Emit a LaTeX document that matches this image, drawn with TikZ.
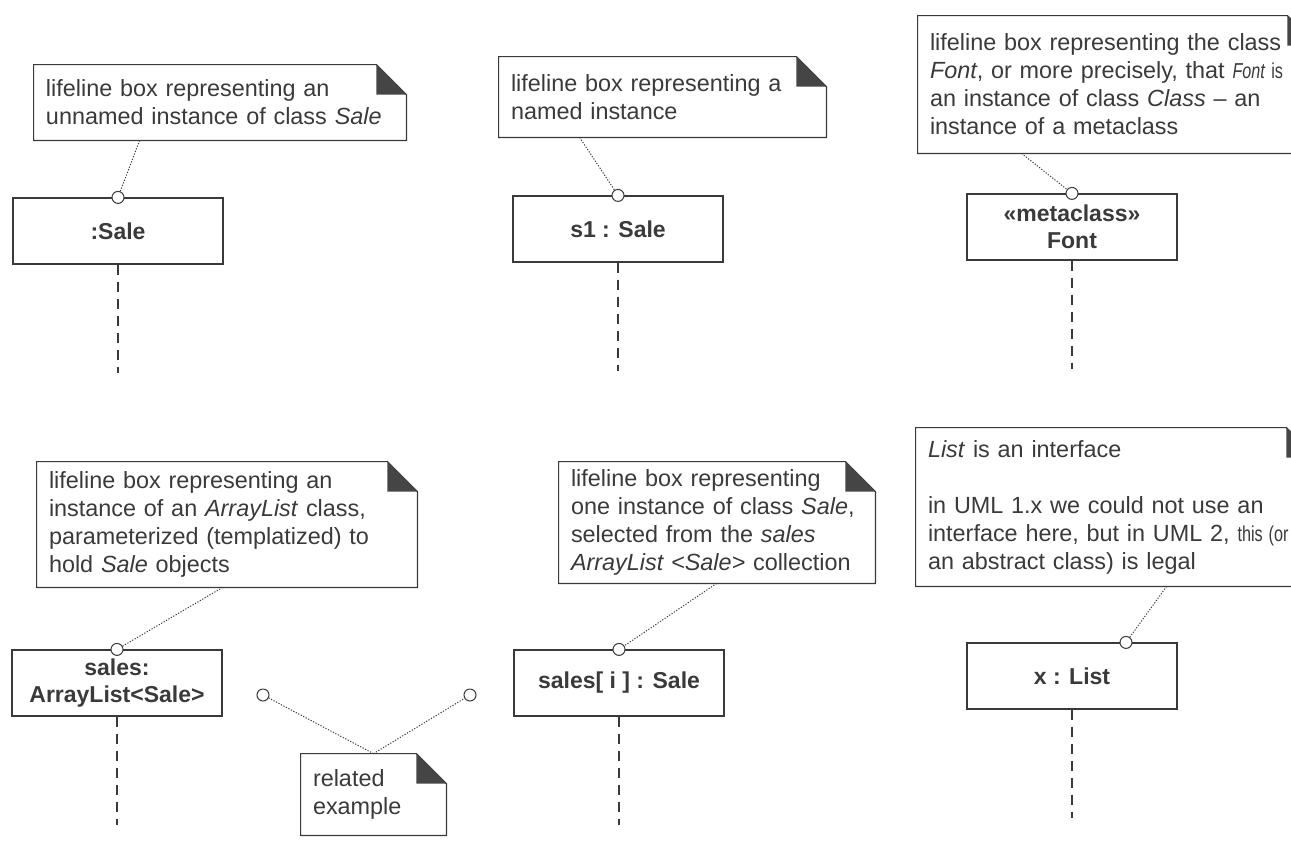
\documentclass[tikz,border=0pt]{standalone}
\usepackage{fontspec}
\setmainfont{Liberation Sans}
\usepackage{graphicx}
\usepackage{xcolor}
\usepackage{tikz}
\definecolor{inkGray}{HTML}{3A3A3A}
\definecolor{foldGray}{HTML}{454545}
\newcommand{\squeezed}[1]{\scalebox{0.75}[1]{\fontsize{10.8}{14}\selectfont #1}}

\begin{document}
\begin{tikzpicture}
[x=0.5pt,y=-0.5pt,%
    lifelineDecorate/.style={shape=rectangle,draw=inkGray,line width=0.6pt,fill=white,minimum width=105pt,minimum height=33pt,inner sep=2pt,align=center,text=inkGray,font=\bfseries\fontsize{11.5}{13.5}\selectfont},%
    noteDecorate/.style={shape=rectangle,inner xsep=6pt,inner ysep=2pt,align=left,text=inkGray,font=\fontsize{11.7}{14}\selectfont},%
    outlineDecorate/.style={draw=inkGray,line width=0.6pt,line join=miter},%
    foldDecorate/.style={fill=foldGray},%
    ballDecorate/.style={shape=circle,draw=inkGray,fill=white,line width=0.5pt,inner sep=0pt,minimum size=6pt},%
    tetherDecorate/.style={draw=inkGray,line width=0.5pt,dash pattern=on 0.6pt off 0.8pt},%
    dashDecorate/.style={draw=inkGray,line width=0.6pt,dash pattern=on 5pt off 3.5pt}]
    \useasboundingbox (0,0) rectangle (1291,847);
    \clip (0,0) rectangle (1291,847);
    %% lifeline boxes
    \foreach \nodename/\x/\y/\txt in {sale/118/231/{:Sale}, sOne/618/229/{s1 : Sale}, metaFont/1072/227/{«metaclass»\\Font}, sales/117/683/{sales:\\ArrayList<Sale>}, salesI/619/683/{sales[ i ] : Sale}, xList/1072/676/{x : List}}
    {
        \node (\nodename) at (\x,\y) [lifelineDecorate] {\txt};
        \draw[dashDecorate] (\nodename.south) -- ++(0,108) coordinate (\nodename-end);
    }
    %% notes
    \foreach \nodename/\x/\y/\w/\h/\txt in {%
        noteSale/220/102.5/174/37.5/{lifeline box representing an\\unnamed instance of class \textit{Sale}},%
        noteNamed/662.5/97/151.5/40/{lifeline box representing a\\named instance},%
        noteFont/1117.5/84.5/187.5/68.5/{lifeline box representing the class\\\textit{Font}, or more precisely, that \squeezed{\textit{Font} is}\\an instance of class \textit{Class} -- an\\instance of a metaclass},%
        noteArray/227/524.5/178/62.5/{lifeline box representing an\\instance of an \textit{ArrayList} class,\\parameterized (templatized) to\\hold \textit{Sale} objects},%
        noteSalesI/717/522.5/146/60.5/{lifeline box representing\\one instance of class \textit{Sale},\\selected from the \textit{sales}\\\textit{ArrayList <Sale>} collection},%
        noteList/1116/507/188/79/{\textit{List} is an interface\\[14pt]in UML 1.x we could not use an\\interface here, but in UML 2, \squeezed{this (or}\\an abstract class) is legal},%
        noteRelated/373.5/794.5/60.5/40.5/{related\\example}}
    {
        \node (\nodename) at (\x,\y) [noteDecorate,text width=\w pt,minimum height=\h pt] {\txt};
        \draw[outlineDecorate] (\nodename.south west) -- (\nodename.north west) -- ([xshift=-15pt]\nodename.north east) -- ([yshift=-15pt]\nodename.north east) -- (\nodename.south east) -- cycle;
        \fill[foldDecorate] ([xshift=-15pt]\nodename.north east) -- ([xshift=-15pt,yshift=-15pt]\nodename.north east) -- ([yshift=-15pt]\nodename.north east) -- cycle;
    }
    %% anchor balls
    \node (ballSale) at (sale.north) [ballDecorate] {};
    \node (ballOne) at (sOne.north) [ballDecorate] {};
    \node (ballFont) at (metaFont.north) [ballDecorate] {};
    \node (ballSales) at (sales.north) [ballDecorate] {};
    \node (ballSalesI) at (salesI.north) [ballDecorate] {};
    \node (ballList) at ([xshift=27pt]xList.north) [ballDecorate] {};
    \node (ballLeft) at (263,695) [ballDecorate] {};
    \node (ballRight) at (470,695) [ballDecorate] {};
    %% tethers
    \foreach \notename/\shift/\ballname in {noteSale/53/ballSale, noteNamed/40.5/ballOne, noteFont/52/ballFont, noteArray/93/ballSales, noteSalesI/79/ballSalesI, noteList/125.5/ballList}
    {
        \draw[tetherDecorate] ([xshift=\shift pt]\notename.south west) -- (\ballname);
    }
    \draw[tetherDecorate] (noteRelated.north) -- (ballLeft);
    \draw[tetherDecorate] (noteRelated.north) -- (ballRight);
\end{tikzpicture}
\end{document}
